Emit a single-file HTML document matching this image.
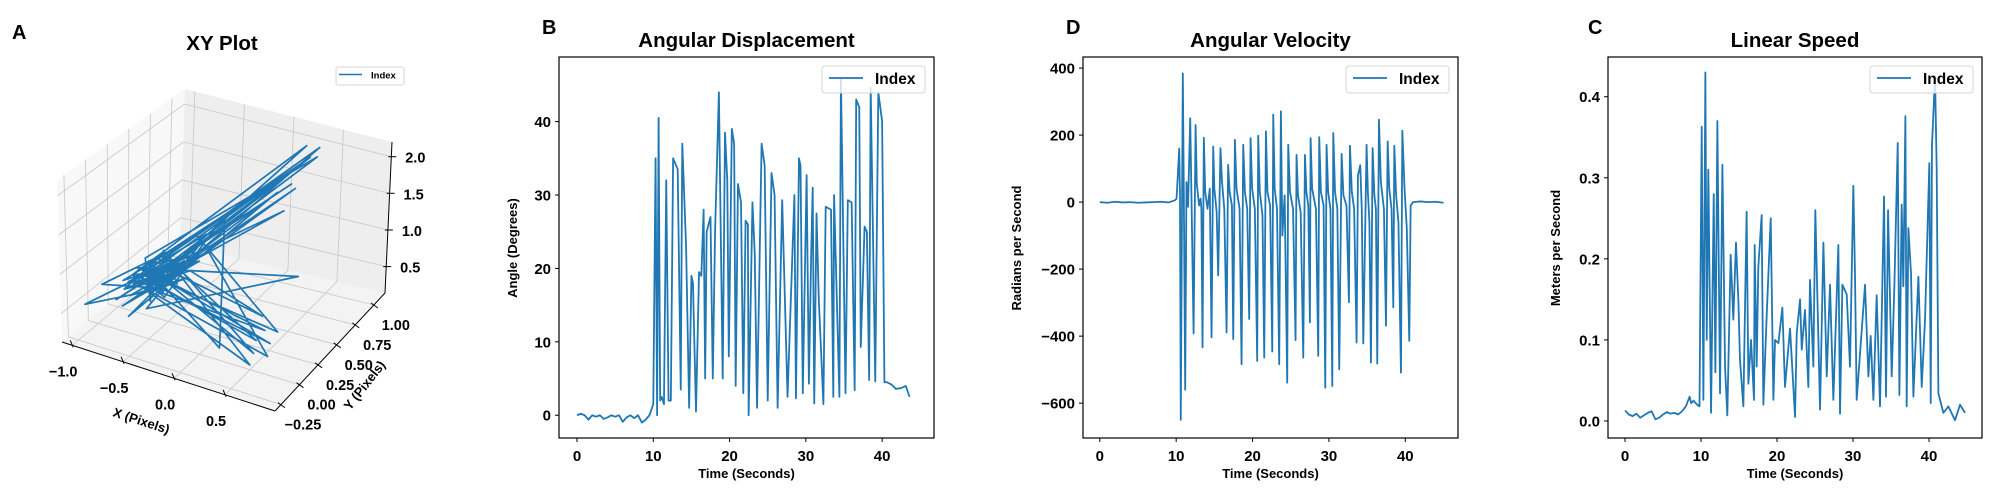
<!DOCTYPE html>
<html><head><meta charset="utf-8"><style>
html,body{margin:0;padding:0;background:#fff;}
svg{display:block;font-family:"Liberation Sans",Arial,sans-serif;font-weight:bold;}
</style></head><body>
<svg id="fig" width="2000" height="500" viewBox="0 0 2000 500" xmlns="http://www.w3.org/2000/svg">
<rect width="2000" height="500" fill="#fff"/>
<g id="p3d"></g>
<g id="pB"></g>
<g id="pD"></g>
<g id="pC"></g>
</svg>
<script>
// ---------- 3D data ----------
const xyzX=[-0.8,-0.6,-0.9,0.2,-0.7,-0.5,-1.05,-0.6,0.5,-0.8,-0.4,-0.7,0.3,-0.9,-0.6,-0.3,0.6,-0.8,-0.5,-0.7,0.1,-0.6,-0.9,-0.4,0.4,-0.7,-0.55,-1.0,-0.65,0.35,-0.8,-0.5,-0.3,0.2,-0.75,-0.6,-0.85,0.45,-0.7,-0.45,-0.6,0.6,-0.9,-0.5,-0.7,0.5,-0.65,-0.4,-0.8,0.25,-0.6,-0.95,-0.5,0.55,-0.7,-0.35,-0.8,0.4,-0.6,-0.5,
-0.85,-0.7,-0.55,-0.75,-0.9,-0.6,-0.45,-0.8,0.3,-0.7,-0.65,-0.5,-0.85,-0.6,-0.75,0.5,-0.7,-0.55,-0.9,-0.65,-0.4,-0.8,0.15,-0.7,-0.6,-0.85,-0.5,-0.75,0.45,-0.65,-0.9,-0.55,-0.7,-0.6,0.35,-0.8,-0.45,-0.7,-0.6,-0.85,0.55,-0.75,-0.5,-0.65,-0.8,-0.6];
const xyzY=[0.2,0.4,0.1,0.9,0.3,0.5,-0.1,0.2,0.2,0.35,0.6,0.15,0.95,0.3,0.35,0.5,0.1,0.25,0.45,0.0,0.85,0.3,0.2,0.4,0.3,0.4,0.25,0.05,0.5,0.8,0.3,0.2,0.7,0.0,0.35,0.15,0.4,0.9,0.25,0.55,0.1,0.5,0.35,0.3,0.45,0.0,0.2,0.35,0.15,0.75,0.4,0.25,0.6,0.3,0.3,0.45,0.05,0.7,0.25,0.35,
0.3,0.35,0.25,0.45,0.2,0.4,0.3,0.35,1.0,0.3,0.4,0.45,0.25,0.3,0.5,0.05,0.35,0.4,0.3,0.25,0.5,0.4,0.95,0.35,0.3,0.35,0.4,0.3,0.15,0.45,0.25,0.35,0.4,0.3,1.05,0.35,0.45,0.3,0.4,0.3,0.2,0.35,0.4,0.3,0.4,0.35];
const xyzZ=[0.5,0.7,0.4,1.6,0.6,0.8,0.45,0.55,0.45,0.6,1.0,0.5,2.1,0.55,0.65,0.9,0.25,0.5,0.75,0.35,1.5,0.6,0.45,0.7,0.5,0.65,0.55,0.6,0.8,2.0,0.55,0.5,1.2,0.3,0.6,0.45,0.7,2.05,0.55,0.85,0.4,0.9,0.6,0.6,0.75,0.2,0.5,0.65,0.45,1.4,0.7,0.5,0.95,0.35,0.6,0.8,0.4,1.8,0.55,0.65,
0.55,0.6,0.5,0.7,0.45,0.65,0.6,0.6,1.9,0.55,0.65,0.7,0.5,0.55,0.75,0.3,0.6,0.65,0.55,0.5,0.8,0.65,1.7,0.6,0.55,0.6,0.65,0.55,0.35,0.7,0.5,0.6,0.65,0.55,2.0,0.6,0.7,0.55,0.65,0.55,0.3,0.6,0.65,0.55,0.65,0.6];
const xTicks3=[-1.0,-0.5,0.0,0.5];
const yTicks3=[-0.25,0.0,0.25,0.5,0.75,1.0];
const zTicks3=[0.5,1.0,1.5,2.0];

// ---------- 2D data ----------
const dispT=[0,0.5,1,1.5,2,2.5,3,3.5,4,4.5,5,5.5,6,6.5,7,7.5,8,8.5,9,9.5,10,10.3,10.5,10.7,10.9,11.1,11.4,11.7,12.0,12.3,12.6,13.2,13.6,13.8,14.3,14.7,15.0,15.2,15.6,16.0,16.3,16.6,16.8,17.0,17.5,17.8,18.1,18.6,19.1,19.4,19.7,19.9,20.3,20.6,20.8,21.1,21.5,21.8,22.1,22.4,22.5,23.0,23.3,23.6,24.2,24.6,25.0,25.5,25.9,26.3,26.9,27.6,28.5,28.7,29.1,29.3,29.6,30.1,30.4,30.7,30.9,31.1,31.4,31.7,32.3,32.6,33.3,33.6,33.7,34.4,34.6,35.2,35.5,36.0,36.4,36.6,37.0,37.2,37.7,38.0,38.3,38.5,39.1,39.5,40.0,40.3,40.6,41.2,41.8,42.5,43.1,43.6,44.2,44.7];
const dispV=[0,0.2,0,-0.6,0,-0.2,0,-0.5,-0.3,0,-0.2,0,-0.9,-0.3,0,-0.4,0,-1.0,-0.6,0,1.5,35,0,40.5,2,2.5,1.5,32,2,2,35,33.5,3.5,37,23,1,19,18,0.5,19.5,19,28,5,25,27,5,25,44,5,38.5,32,8,39,37,4,31.5,29,3,26.5,26,0,29,22,1,37,34,2,33,30,1,29.3,2.5,30,2.3,35,34,3,32.7,4.3,22,31,1.6,27.5,15.7,1.5,28.4,28,2.5,30,2.5,46,3,29.3,29,3.4,43,42,9.3,25.7,25,4.8,44.6,4.6,44,40,4.5,4.5,4.2,3.6,3.7,4,2.5];

const velT=[0,1,2,3,4,5,6,7,8,9,9.8,10.05,10.4,10.5,10.6,10.87,11.0,11.18,11.35,11.55,11.84,12.0,12.28,12.54,12.7,13.0,13.2,13.3,13.45,13.62,13.8,14.1,14.4,14.63,14.85,15.0,15.3,15.5,15.8,16.0,16.3,16.6,16.8,17.0,17.3,17.47,17.69,17.9,18.3,18.56,18.78,19.0,19.3,19.56,19.74,19.95,20.3,20.61,20.74,20.95,21.3,21.53,21.75,21.95,22.3,22.58,22.71,22.9,23.2,23.49,23.71,23.9,24.2,24.54,24.67,24.9,25.3,25.63,25.76,25.95,26.3,26.64,26.86,27.05,27.3,27.51,27.6,27.8,28.3,28.6,28.73,28.95,29.3,29.52,29.69,29.9,30.2,30.44,30.57,30.8,31.1,31.35,31.66,31.9,32.3,32.62,32.75,33.0,33.3,33.62,33.8,34.1,34.3,34.5,34.93,35.1,35.3,35.5,35.72,35.95,36.15,36.33,36.55,36.8,37.2,37.47,37.69,37.9,38.2,38.43,38.56,38.8,39.1,39.43,39.61,39.9,40.2,40.52,40.7,41,42,43,44,45];
const velV=[0,-2,1,-1,0,-2,-1,0,1,-1,5,10,160,20,-650,384,30,-560,60,-14,250,20,-392,230,55,-10,10,-20,-434,192,30,-20,40,-404,166,40,-30,-219,161,60,-20,-389,111,30,-10,-409,186,40,-20,-484,171,30,-20,-349,191,40,-20,-474,198,30,-40,-464,211,30,-10,-446,261,40,-20,-484,271,-100,20,-539,171,30,-20,-412,141,20,-30,-464,141,30,-10,-359,191,40,-20,-459,194,30,-10,-554,171,30,-20,-549,206,30,-20,-499,144,20,-10,-299,168,30,-20,-419,80,110,-20,-422,171,30,-60,-479,161,20,-20,-482,246,60,-20,-369,181,40,-20,-314,168,20,-60,-509,213,40,-80,-414,-10,0,2,0,1,-2];

const spdT=[0,0.5,1,1.5,2,2.5,3,3.5,4,4.5,5,5.5,6,6.5,7,7.5,8,8.5,8.7,9,9.5,9.8,10.09,10.31,10.57,10.75,10.96,11.32,11.67,11.89,12.15,12.5,12.81,13.16,13.46,13.9,14.25,14.6,14.91,15.13,15.57,16.0,16.23,16.58,16.97,17.06,17.32,17.54,17.98,18.2,18.64,19.17,19.52,19.74,20.18,20.7,21.05,21.71,22.37,22.59,23.03,23.25,23.68,24.12,24.34,24.78,25.04,25.66,26.1,26.54,26.97,27.41,28.07,28.29,28.6,29.17,29.6,30.04,30.26,30.48,31.58,32.02,32.32,32.68,33.11,33.55,34.08,34.34,34.61,35.09,35.44,35.88,36.1,36.4,36.62,36.89,37.06,37.28,37.63,37.94,38.6,39.04,39.47,40.04,40.22,40.39,40.79,41.01,41.23,41.89,42.54,43.42,44.08,44.74];
const spdV=[0.013,0.008,0.006,0.009,0.004,0.007,0.01,0.012,0.002,0.004,0.008,0.011,0.009,0.01,0.008,0.012,0.018,0.03,0.022,0.025,0.02,0.018,0.363,0.026,0.43,0.10,0.31,0.01,0.28,0.06,0.37,0.034,0.316,0.067,0.007,0.205,0.125,0.22,0.15,0.075,0.018,0.258,0.046,0.10,0.026,0.217,0.067,0.19,0.254,0.02,0.13,0.25,0.026,0.10,0.096,0.14,0.042,0.114,0.005,0.108,0.15,0.088,0.137,0.042,0.174,0.067,0.26,0.014,0.22,0.055,0.168,0.026,0.217,0.009,0.168,0.156,0.067,0.29,0.18,0.026,0.168,0.055,0.105,0.026,0.155,0.018,0.277,0.03,0.26,0.055,0.166,0.343,0.032,0.267,0.166,0.376,0.018,0.238,0.182,0.03,0.178,0.042,0.124,0.318,0.022,0.34,0.425,0.31,0.034,0.01,0.018,0.001,0.02,0.01];

const timeTicks=[0,10,20,30,40];
const dispTicks=[0,10,20,30,40];
const velTicks=[-600,-400,-200,0,200,400];
const spdTicks=[0.0,0.1,0.2,0.3,0.4];

const NS="http://www.w3.org/2000/svg";
const BLUE="#1f77b4";
function mk(tag,attrs,parent){const e=document.createElementNS(NS,tag);for(const k in attrs)e.setAttribute(k,attrs[k]);parent.appendChild(e);return e;}
function txt(parent,x,y,s,size,anchor,extra){const t=mk('text',Object.assign({x:x,y:y,'font-size':size,'text-anchor':anchor||'middle',fill:'#000'},extra||{}),parent);t.textContent=s;return t;}

// ---------- 2D charts ----------
function chart(g,cfg){
  const L=cfg.L,R=cfg.R,T=57,B=438;
  const sx=t=>L+(t-cfg.x0)/(cfg.x1-cfg.x0)*(R-L);
  const sy=v=>B-(v-cfg.y0)/(cfg.y1-cfg.y0)*(B-T);
  let d='';
  for(let i=0;i<cfg.t.length;i++){d+=(i?'L':'M')+sx(cfg.t[i]).toFixed(2)+' '+sy(cfg.v[i]).toFixed(2);}
  const line=mk('path',{d:d,fill:'none',stroke:BLUE,'stroke-width':1.8,'stroke-linejoin':'round'},g);
  
  
  const frame=mk('rect',{x:L,y:T,width:R-L,height:B-T,fill:'none',stroke:'#000','stroke-width':1.2},g);
  
  
  timeTicks.forEach(t=>{const x=sx(t);
    const tk=mk('line',{x1:x,y1:B,x2:x,y2:B+4,stroke:'#000','stroke-width':1},g);
    
    
    const lb=txt(g,x,B+23,String(t),15);
    
    });
  cfg.yt.forEach(v=>{const y=sy(v);
    const tk=mk('line',{x1:L-4,y1:y,x2:L,y2:y,stroke:'#000','stroke-width':1},g);
    
    
    const lb=txt(g,L-8,y+5.5,cfg.fmt(v),15,'end');
    
    });
  const tt=txt(g,(L+R)/2,47,cfg.title,20.5);
  
  
  const xl=txt(g,(L+R)/2,478,'Time (Seconds)',13);
  
  
  const yl=txt(g,0,0,cfg.ylab,13,'middle',{transform:'translate('+cfg.ylx+',248) rotate(-90)'});
  
  
  const pl=txt(g,cfg.letterX,34,cfg.letter,20,'start');
  
  
  const lg=mk('g',{},g);
  
  
  const lx=R-112;
  mk('rect',{x:lx,y:66,width:103,height:27,rx:3,fill:'#fff','fill-opacity':0.8,stroke:'#d6d6d6','stroke-width':1},lg);
  mk('line',{x1:lx+7,y1:78,x2:lx+41,y2:78,stroke:BLUE,'stroke-width':1.8},lg);
  txt(lg,lx+53,84,'Index',15.5,'start');
}
const minus=s=>s.replace('-','\u2212');
chart(document.getElementById('pB'),{L:559,R:934,x0:-2.36,x1:46.8,y0:-3.1,y1:48.8,t:dispT,v:dispV,yt:dispTicks,fmt:v=>String(v),title:'Angular Displacement',ylab:'Angle (Degrees)',ylx:517,letter:'B',letterX:542});
chart(document.getElementById('pD'),{L:1083,R:1458,x0:-2.2,x1:46.9,y0:-704,y1:433,t:velT,v:velV,yt:velTicks,fmt:v=>minus(String(v)),title:'Angular Velocity',ylab:'Radians per Second',ylx:1021,letter:'D',letterX:1066});
chart(document.getElementById('pC'),{L:1608,R:1982,x0:-2.24,x1:46.97,y0:-0.021,y1:0.449,t:spdT,v:spdV,yt:spdTicks,fmt:v=>v.toFixed(1),title:'Linear Speed',ylab:'Meters per Second',ylx:1560,letter:'C',letterX:1588});

// ---------- 3D chart ----------
(function(){
  const g=document.getElementById('p3d');
  const XMIN=-1.1,XMAX=0.99,YMIN=-0.33,YMAX=1.15,ZMIN=0.14,ZMAX=2.2;
  const P00=[62,342],P10=[275,411],P11=[385,293],P01=[180,245];
  const T00=[57,180],T11=[392,142],T01=[185,89],T10=[270,249];
  function bil(a,b,c,d,u,v){return [(1-u)*(1-v)*a[0]+u*(1-v)*b[0]+u*v*c[0]+(1-u)*v*d[0],(1-u)*(1-v)*a[1]+u*(1-v)*b[1]+u*v*c[1]+(1-u)*v*d[1]];}
  function proj(x,y,z){const u=(x-XMIN)/(XMAX-XMIN),v=(y-YMIN)/(YMAX-YMIN),w=(z-ZMIN)/(ZMAX-ZMIN);
    const b=bil(P00,P10,P11,P01,u,v),t=bil(T00,T10,T11,T01,u,v);return [b[0]+(t[0]-b[0])*w,b[1]+(t[1]-b[1])*w];}
  const pts=a=>a.map(p=>p[0].toFixed(1)+','+p[1].toFixed(1)).join(' ');
  const floor=mk('polygon',{points:pts([proj(XMIN,YMIN,ZMIN),proj(XMAX,YMIN,ZMIN),proj(XMAX,YMAX,ZMIN),proj(XMIN,YMAX,ZMIN)]),fill:'#f3f3f3'},g);
  
  
  const lw=mk('polygon',{points:pts([proj(XMIN,YMIN,ZMIN),proj(XMIN,YMAX,ZMIN),proj(XMIN,YMAX,ZMAX),proj(XMIN,YMIN,ZMAX)]),fill:'#f8f8f8'},g);
  
  
  const bw=mk('polygon',{points:pts([proj(XMIN,YMAX,ZMIN),proj(XMAX,YMAX,ZMIN),proj(XMAX,YMAX,ZMAX),proj(XMIN,YMAX,ZMAX)]),fill:'#eeeeee'},g);
  
  
  const grid=mk('g',{stroke:'#cbcbcb','stroke-width':0.9,fill:'none'},g);
  
  
  function seg(a,b,p,attrs){mk('polyline',Object.assign({points:pts([a,b])},attrs||{}),p);}
  xTicks3.forEach(x=>{seg(proj(x,YMIN,ZMIN),proj(x,YMAX,ZMIN),grid);seg(proj(x,YMAX,ZMIN),proj(x,YMAX,ZMAX),grid);});
  yTicks3.forEach(y=>{seg(proj(XMIN,y,ZMIN),proj(XMAX,y,ZMIN),grid);seg(proj(XMIN,y,ZMIN),proj(XMIN,y,ZMAX),grid);});
  zTicks3.forEach(z=>{seg(proj(XMIN,YMIN,z),proj(XMIN,YMAX,z),grid);seg(proj(XMIN,YMAX,z),proj(XMAX,YMAX,z),grid);});
  const axes=mk('g',{stroke:'#000','stroke-width':1,fill:'none'},g);
  
  
  seg(proj(XMIN,YMIN,ZMIN),proj(XMAX,YMIN,ZMIN),axes);
  seg(proj(XMAX,YMIN,ZMIN),proj(XMAX,YMAX,ZMIN),axes);
  seg(proj(XMAX,YMAX,ZMIN),proj(XMAX,YMAX,ZMAX),axes);
  xTicks3.forEach(x=>{const p=proj(x,YMIN,ZMIN);seg([p[0]-2,p[1]-5],[p[0]+1,p[1]+2],axes);
    const lb=txt(g,p[0]-9,p[1]+31,minus(x.toFixed(1)),14.5);
    
    });
  yTicks3.forEach(y=>{const p=proj(XMAX,y,ZMIN);seg([p[0]-3,p[1]-2],[p[0]+4,p[1]+3],axes);
    const lb=txt(g,p[0]+22,p[1]+25,minus(y.toFixed(2)),14.5);
    
    });
  zTicks3.forEach(z=>{const p=proj(XMAX,YMAX,z);seg([p[0]-3,p[1]],[p[0]+5,p[1]],axes);
    const lb=txt(g,p[0]+24,p[1]+6,z.toFixed(1),14.5);
    
    });
  let d='';
  for(let i=0;i<xyzX.length;i++){const p=proj(xyzX[i],xyzY[i],xyzZ[i]);d+=(i?'L':'M')+p[0].toFixed(1)+' '+p[1].toFixed(1);}
  const ln=mk('path',{d:d,fill:'none',stroke:BLUE,'stroke-width':1.7,'stroke-linejoin':'round'},g);
  
  
  const xl=txt(g,0,0,'X (Pixels)',13,'middle',{transform:'translate(140,425) rotate(18)'});
  
  
  const yl=txt(g,0,0,'Y (Pixels)',13,'middle',{transform:'translate(368,388) rotate(-52)'});
  
  
  const tt=txt(g,222,50,'XY Plot',20.5);
  
  
  const pl=txt(g,12,39,'A',20,'start');
  
  
  const lg=mk('g',{},g);
  
  
  mk('rect',{x:336,y:67,width:68,height:18,rx:2,fill:'#fff',stroke:'#d6d6d6','stroke-width':1},lg);
  mk('line',{x1:339,y1:74.5,x2:362,y2:74.5,stroke:BLUE,'stroke-width':1.5},lg);
  txt(lg,371,78.5,'Index',9.5,'start');
})();
</script>
</body></html>
